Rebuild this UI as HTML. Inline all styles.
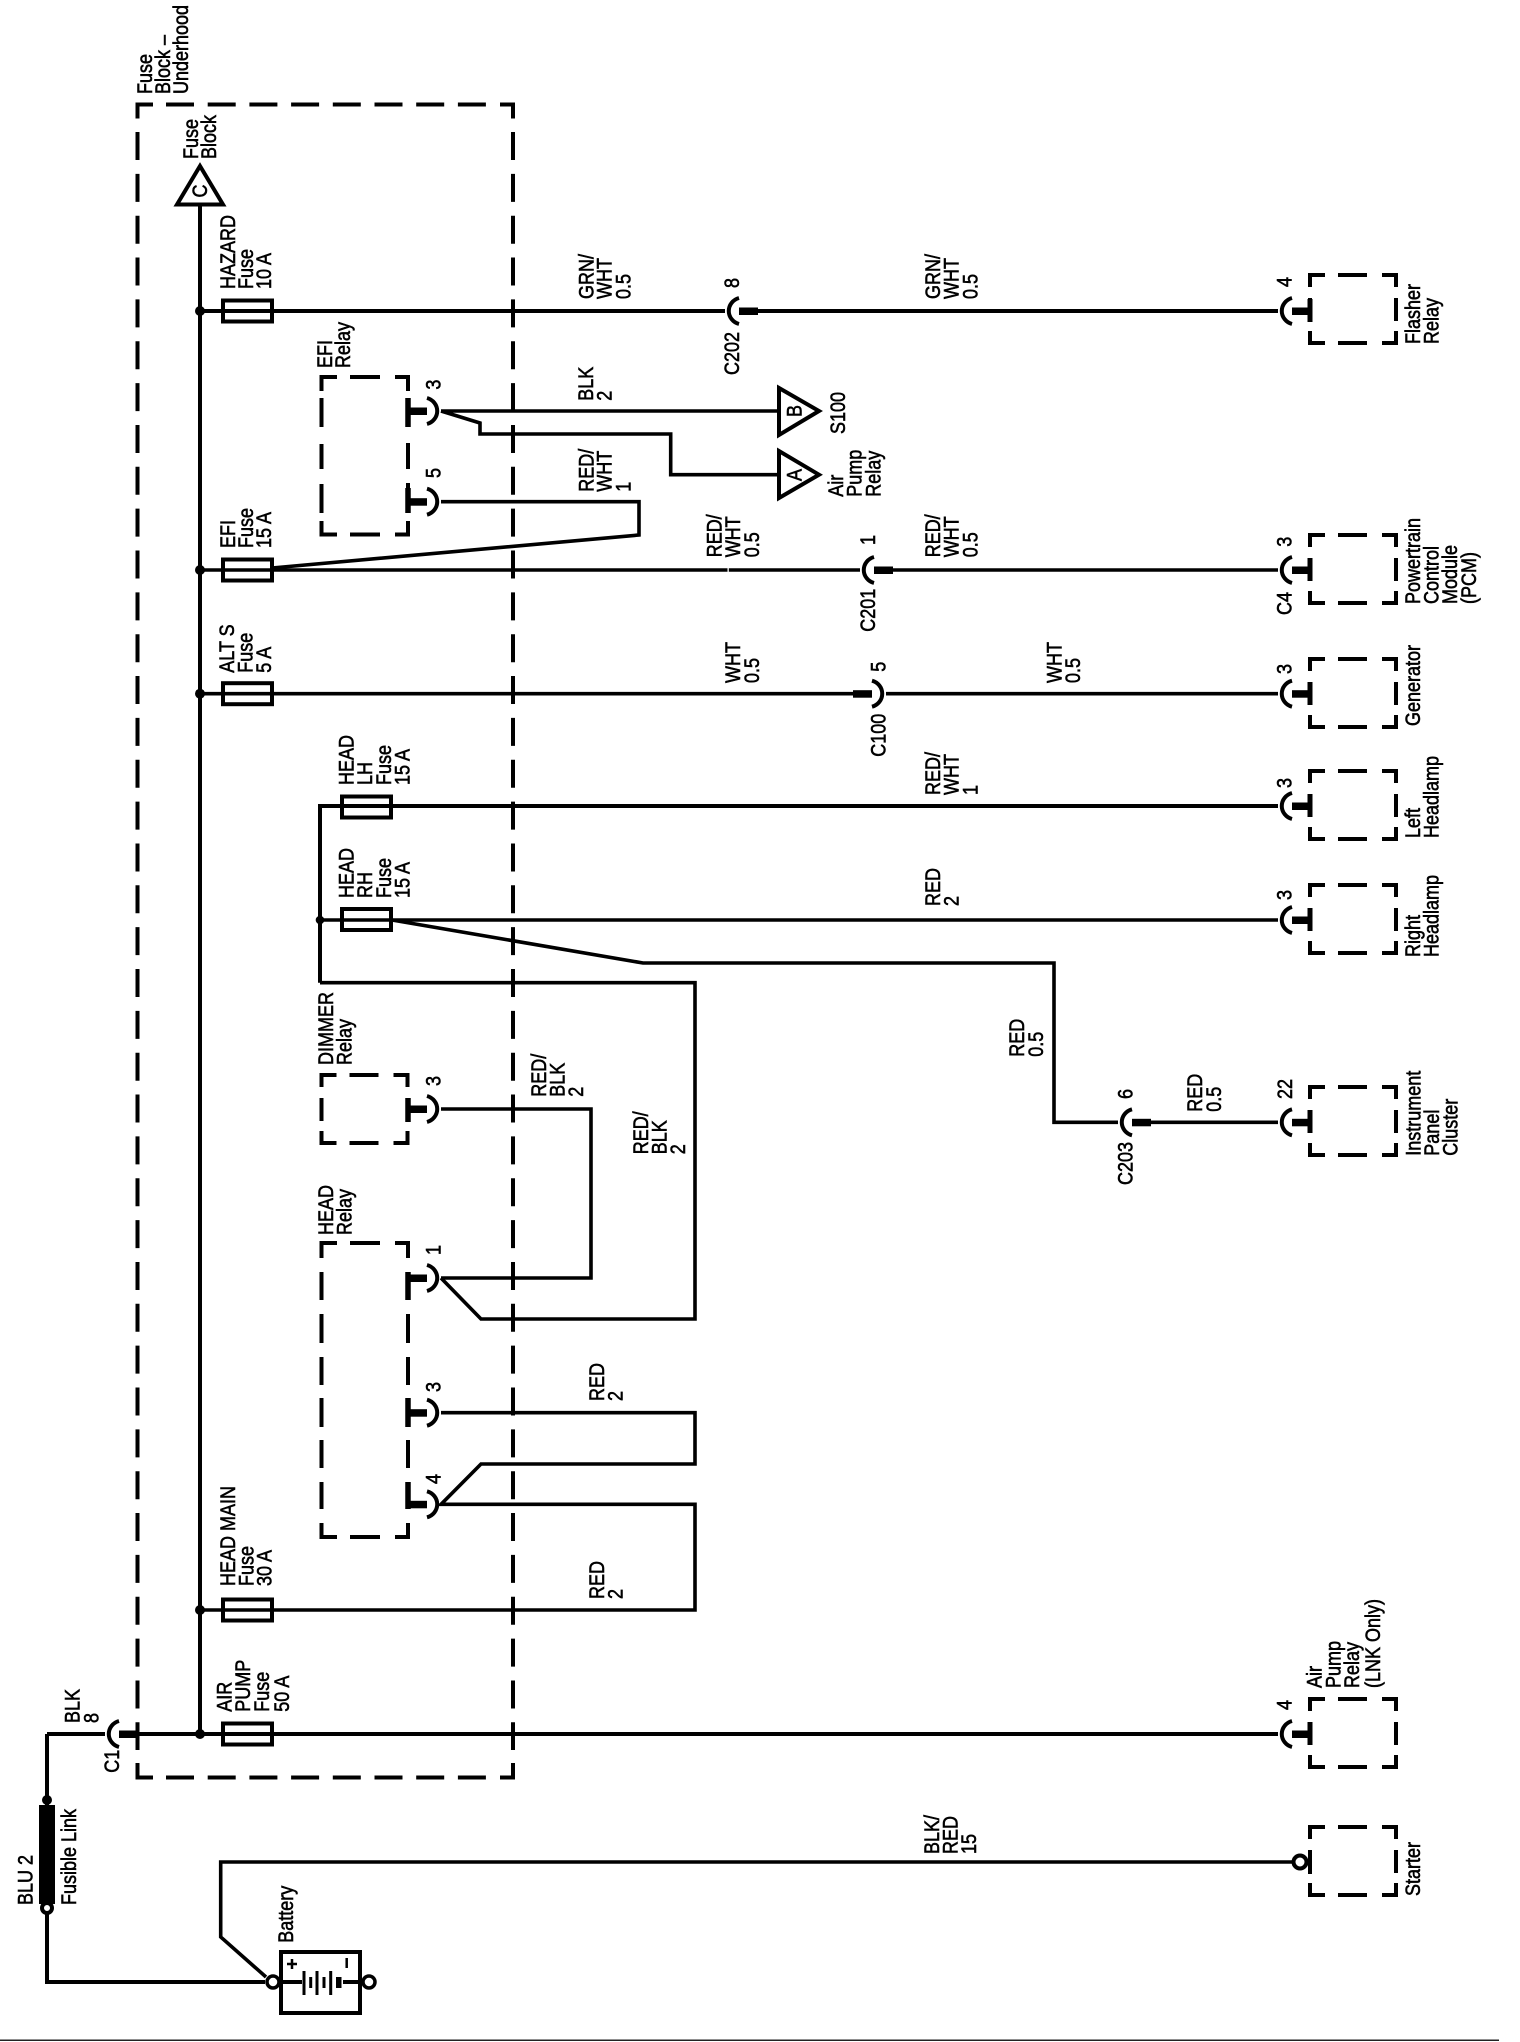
<!DOCTYPE html>
<html><head><meta charset="utf-8"><style>
html,body{margin:0;padding:0;background:#fff;width:1520px;height:2042px;overflow:hidden}
svg{display:block}
text{font-family:"Liberation Sans",sans-serif;font-size:18px;fill:#000;stroke:#000;stroke-width:.5}
.w{fill:none;stroke:#000;stroke-width:4;stroke-linejoin:miter}
.t{stroke-width:3.6}
</style></head><body>
<svg width="1520" height="2042" viewBox="0 0 1520 2042" xmlns="http://www.w3.org/2000/svg">
<defs>
<g id="cr"><path d="M14,-13A14,13.5 0 0 0 14,13" fill="none" stroke="#000" stroke-width="4"/><rect x="14" y="-3.5" width="19" height="7.5" fill="#000"/></g>
<path id="db" d="M15,-35H0V-23M28,-35H57M72,-35H86V-23M0,-12V11M86,-12V11M0,21V33H15M28,33H57M72,33H86V21" class="w" stroke="#000" fill="none" stroke-width="4"/>
<rect id="fz" x="0" y="-10.5" width="49" height="21" fill="none" stroke="#000" stroke-width="4"/>
</defs>

<!-- main dashed box -->
<path class="w" d="M153,104.5H137.5V118.5M500,104.5H513V118.5M137.5,1763V1777.5H153M513,1763V1777.5H500"/>
<path class="w" stroke-dasharray="28 13.7" d="M166,104.5H487M166,1777.5H487"/>
<path class="w" stroke-dasharray="28 13.85" d="M137.5,132V1750M513,132V1750"/>

<!-- trunk and triangle -->
<path class="w" d="M200,204V1734"/>
<path d="M200,166L177,204.5H223Z" fill="#fff" stroke="#000" stroke-width="4"/>
<circle cx="200" cy="311" r="5"/><circle cx="200" cy="570" r="5"/><circle cx="200" cy="693.7" r="5"/><circle cx="200" cy="1610" r="5"/><circle cx="200" cy="1734" r="5"/>

<!-- wires -->
<g class="w" fill="none" stroke="#000">
<path class="w" d="M200,311H725M757,311H1278"/>
<path class="w t" d="M441,411H779M441,411L480,423V434H670.7V474.7H779"/>
<path class="w t" d="M441,501.7H639V535L272,568"/>
<path class="w t" d="M200,570H860M892,570H1278"/>
<path class="w t" d="M200,693.7H854M886,693.7H1278"/>
<path class="w" d="M320,982.7V806H1278"/>
<path class="w t" d="M320,920H1278"/>
<path class="w t" d="M392,920L643,963H1054V1122.3H1118M1151,1122.3H1278"/>
<path class="w t" d="M320,982.7H695V1319H481L441,1278"/>
<path class="w t" d="M441,1109H591V1278H441"/>
<path class="w t" d="M441,1412.7H695V1464H481L441,1504.3H695V1610H200"/>
<path class="w" d="M105,1734H47M138,1734H1278"/>
<path class="w" d="M47,1734V1982H265"/>
<path class="w t" d="M1293,1862H220.7V1937L266,1977"/>
</g>
<rect x="727.5" y="567" width="1.3" height="6" fill="#fff"/>
<circle cx="320" cy="920" r="4.3"/>

<!-- fuses -->
<use href="#fz" x="223" y="311"/><use href="#fz" x="223" y="570"/><use href="#fz" x="223" y="693.7"/><use href="#fz" x="223" y="1610"/><use href="#fz" x="223" y="1734"/>
<use href="#fz" x="342" y="807"/><use href="#fz" x="342" y="919.5"/>

<!-- connectors -->
<use href="#cr" x="725" y="311"/><use href="#cr" x="860" y="570"/><use href="#cr" x="1118" y="1122.3"/>
<use href="#cr" x="1278" y="311"/><use href="#cr" x="1278" y="570"/><use href="#cr" x="1278" y="693.7"/><use href="#cr" x="1278" y="806"/><use href="#cr" x="1278" y="920"/><use href="#cr" x="1278" y="1122.3"/><use href="#cr" x="1278" y="1734"/>
<use href="#cr" x="105" y="1734"/>
<use href="#cr" transform="translate(886,693.7) scale(-1,1)"/>
<use href="#cr" transform="translate(441,411) scale(-1,1)"/>
<use href="#cr" transform="translate(441,501.7) scale(-1,1)"/>
<use href="#cr" transform="translate(441,1109) scale(-1,1)"/>
<use href="#cr" transform="translate(441,1278) scale(-1,1)"/>
<use href="#cr" transform="translate(441,1412.7) scale(-1,1)"/>
<use href="#cr" transform="translate(441,1504.3) scale(-1,1)"/>

<!-- destination boxes -->
<use href="#db" x="1310" y="310"/><use href="#db" x="1310" y="570"/><use href="#db" x="1310" y="694"/><use href="#db" x="1310" y="806"/><use href="#db" x="1310" y="920"/><use href="#db" x="1310" y="1122"/><use href="#db" x="1310" y="1734"/><use href="#db" x="1310" y="1862"/>
<path d="M1310,1850V1874" stroke="#000" stroke-width="4"/>
<circle cx="1300" cy="1862" r="6.5" fill="#fff" stroke="#000" stroke-width="4"/>
<path d="M1310,299V322M1310,558V581M1310,682V705M1310,794V817M1310,908V931M1310,1110V1133M1310,1722V1745" stroke="#000" stroke-width="5"/>

<!-- relay boxes -->
<use href="#db" x="321.5" y="1110"/>
<path class="w" d="M337,377H321.5V391M350,377H380M395,377H408V391M321.5,398V427M321.5,444V469M321.5,484V513M321.5,521V534.5H337M350,534.5H380M395,534.5H408V521M408,398V427M408,443V469M408,483V511"/>
<path class="w" d="M337,1243H321.5V1258M350,1243H380M395,1243H408V1258M321.5,1272V1300M321.5,1314V1343M321.5,1357V1385M321.5,1398V1427M321.5,1440V1468M321.5,1482V1509M321.5,1523V1537H337M350,1537H380M395,1537H408V1523M408,1272V1300M408,1314V1343M408,1357V1385M408,1398V1427M408,1440V1468M408,1482V1509"/>
<path d="M408,398V427M408,488V513M408,1098V1122M408,1272V1300M408,1398V1427M408,1482V1509" stroke="#000" stroke-width="5.5"/>

<!-- off-page triangles -->
<path d="M779,388V435L819,411Z" fill="#fff" stroke="#000" stroke-width="4"/>
<path d="M779,451V498L819,474.7Z" fill="#fff" stroke="#000" stroke-width="4"/>

<!-- fusible link -->
<rect x="39" y="1805" width="16" height="99"/>
<circle cx="47" cy="1800" r="5"/>
<circle cx="47" cy="1908" r="5" fill="#fff" stroke="#000" stroke-width="4"/>

<!-- battery -->
<rect x="281" y="1952" width="79" height="61" fill="#fff" stroke="#000" stroke-width="4"/>
<path d="M280,1982H302M343,1982H362" stroke="#000" stroke-width="4"/>
<path d="M304,1971V1995M310.7,1977V1988M317,1971V1995M324,1977V1988M330.7,1971V1995" stroke="#000" stroke-width="3"/>
<rect x="336" y="1977" width="5.5" height="11"/>
<path d="M292,1959V1969M287,1964H297M346.7,1958V1968" stroke="#000" stroke-width="2.5"/>
<circle cx="273" cy="1982" r="6" fill="#fff" stroke="#000" stroke-width="3.5"/>
<circle cx="369" cy="1982" r="6" fill="#fff" stroke="#000" stroke-width="3.5"/>

<!-- bottom rule -->
<rect x="0" y="2039.5" width="1499" height="1.5" fill="#222"/>

<!-- labels -->
<g>
<text transform="translate(152,94) rotate(-90) scale(1,1.16)"><tspan x="0">Fuse</tspan><tspan x="0" dy="15.6">Block –</tspan><tspan x="0" dy="15.6">Underhood</tspan></text>
<text transform="translate(198,159) rotate(-90) scale(1,1.16)"><tspan x="0">Fuse</tspan><tspan x="0" dy="15.6">Block</tspan></text>
<text transform="translate(207,191) rotate(-90) scale(1,1.16)" text-anchor="middle">C</text>
<text transform="translate(235,289) rotate(-90) scale(1,1.16)"><tspan x="0">HAZARD</tspan><tspan x="0" dy="15.6">Fuse</tspan><tspan x="0" dy="15.6">10 A</tspan></text>
<text transform="translate(332,368) rotate(-90) scale(1,1.16)"><tspan x="0">EFI</tspan><tspan x="0" dy="15.6">Relay</tspan></text>
<text transform="translate(440.7,389.6) rotate(-90) scale(1,1.16)">3</text>
<text transform="translate(440.7,478) rotate(-90) scale(1,1.16)">5</text>
<text transform="translate(235,548) rotate(-90) scale(1,1.16)"><tspan x="0">EFI</tspan><tspan x="0" dy="15.6">Fuse</tspan><tspan x="0" dy="15.6">15 A</tspan></text>
<text transform="translate(593.3,299) rotate(-90) scale(1,1.16)"><tspan x="0">GRN/</tspan><tspan x="0" dy="15.8">WHT</tspan><tspan x="0" dy="16.4">0.5</tspan></text>
<text transform="translate(940,299) rotate(-90) scale(1,1.16)"><tspan x="0">GRN/</tspan><tspan x="0" dy="15.8">WHT</tspan><tspan x="0" dy="16.4">0.5</tspan></text>
<text transform="translate(739,288) rotate(-90) scale(1,1.16)">8</text>
<text transform="translate(739,375) rotate(-90) scale(1,1.16)">C202</text>
<text transform="translate(593,400.7) rotate(-90) scale(1,1.16)"><tspan x="0">BLK</tspan><tspan x="0" dy="16">2</tspan></text>
<text transform="translate(593.3,491.7) rotate(-90) scale(1,1.16)"><tspan x="0">RED/</tspan><tspan x="0" dy="15.8">WHT</tspan><tspan x="0" dy="16.4">1</tspan></text>
<text transform="translate(845,434) rotate(-90) scale(1,1.16)">S100</text>
<text transform="translate(843,496.7) rotate(-90) scale(1,1.16)"><tspan x="0">Air</tspan><tspan x="0" dy="16">Pump</tspan><tspan x="0" dy="16.4">Relay</tspan></text>
<text transform="translate(801.7,411) rotate(-90) scale(1,1.16)" text-anchor="middle">B</text>
<text transform="translate(801.7,475) rotate(-90) scale(1,1.16)" text-anchor="middle">A</text>
<text transform="translate(721.7,557.3) rotate(-90) scale(1,1.16)"><tspan x="0">RED/</tspan><tspan x="0" dy="15.8">WHT</tspan><tspan x="0" dy="16.4">0.5</tspan></text>
<text transform="translate(940,557.3) rotate(-90) scale(1,1.16)"><tspan x="0">RED/</tspan><tspan x="0" dy="15.8">WHT</tspan><tspan x="0" dy="16.4">0.5</tspan></text>
<text transform="translate(875,545) rotate(-90) scale(1,1.16)">1</text>
<text transform="translate(875,631.7) rotate(-90) scale(1,1.16)">C201</text>
<text transform="translate(740,683) rotate(-90) scale(1,1.16)"><tspan x="0">WHT</tspan><tspan x="0" dy="16.4">0.5</tspan></text>
<text transform="translate(1061.7,683) rotate(-90) scale(1,1.16)"><tspan x="0">WHT</tspan><tspan x="0" dy="16">0.5</tspan></text>
<text transform="translate(885.7,671.7) rotate(-90) scale(1,1.16)">5</text>
<text transform="translate(885.7,756.7) rotate(-90) scale(1,1.16)">C100</text>
<text transform="translate(234,672.7) rotate(-90) scale(1,1.16)"><tspan x="0">ALT S</tspan><tspan x="0" dy="16">Fuse</tspan><tspan x="0" dy="15.8">5 A</tspan></text>
<text transform="translate(940,795) rotate(-90) scale(1,1.16)"><tspan x="0">RED/</tspan><tspan x="0" dy="15.8">WHT</tspan><tspan x="0" dy="16.4">1</tspan></text>
<text transform="translate(353.3,785) rotate(-90) scale(1,1.16)"><tspan x="0">HEAD</tspan><tspan x="0" dy="16.2">LH</tspan><tspan x="0" dy="16.2">Fuse</tspan><tspan x="0" dy="16.2">15 A</tspan></text>
<text transform="translate(353.3,898) rotate(-90) scale(1,1.16)"><tspan x="0">HEAD</tspan><tspan x="0" dy="16.2">RH</tspan><tspan x="0" dy="16.2">Fuse</tspan><tspan x="0" dy="16.2">15 A</tspan></text>
<text transform="translate(940,906) rotate(-90) scale(1,1.16)"><tspan x="0">RED</tspan><tspan x="0" dy="16">2</tspan></text>
<text transform="translate(1024,1056.7) rotate(-90) scale(1,1.16)"><tspan x="0">RED</tspan><tspan x="0" dy="16.4">0.5</tspan></text>
<text transform="translate(1202,1111.7) rotate(-90) scale(1,1.16)"><tspan x="0">RED</tspan><tspan x="0" dy="16.4">0.5</tspan></text>
<text transform="translate(1132.7,1099) rotate(-90) scale(1,1.16)">6</text>
<text transform="translate(1132.7,1185) rotate(-90) scale(1,1.16)">C203</text>
<text transform="translate(1292,1099) rotate(-90) scale(1,1.16)">22</text>
<text transform="translate(1420.7,1155.7) rotate(-90) scale(1,1.16)"><tspan x="0">Instrument</tspan><tspan x="0" dy="16">Panel</tspan><tspan x="0" dy="15.6">Cluster</tspan></text>
<text transform="translate(1420,344) rotate(-90) scale(1,1.16)"><tspan x="0">Flasher</tspan><tspan x="0" dy="15.8">Relay</tspan></text>
<text transform="translate(1291.7,287) rotate(-90) scale(1,1.16)">4</text>
<text transform="translate(1420,604) rotate(-90) scale(1,1.16)"><tspan x="0">Powertrain</tspan><tspan x="0" dy="15.8">Control</tspan><tspan x="0" dy="16">Module</tspan><tspan x="0" dy="16.6">(PCM)</tspan></text>
<text transform="translate(1291.7,615) rotate(-90) scale(1,1.16)">C4</text>
<text transform="translate(1291.7,546.7) rotate(-90) scale(1,1.16)">3</text>
<text transform="translate(1420,726) rotate(-90) scale(1,1.16)">Generator</text>
<text transform="translate(1291.7,674) rotate(-90) scale(1,1.16)">3</text>
<text transform="translate(1420,838) rotate(-90) scale(1,1.16)"><tspan x="0">Left</tspan><tspan x="0" dy="15.8">Headlamp</tspan></text>
<text transform="translate(1291.7,788) rotate(-90) scale(1,1.16)">3</text>
<text transform="translate(1420,957) rotate(-90) scale(1,1.16)"><tspan x="0">Right</tspan><tspan x="0" dy="15.8">Headlamp</tspan></text>
<text transform="translate(1291.7,900) rotate(-90) scale(1,1.16)">3</text>
<text transform="translate(1321.7,1688) rotate(-90) scale(1,1.16)"><tspan x="0">Air</tspan><tspan x="0" dy="16.4">Pump</tspan><tspan x="0" dy="15.8">Relay</tspan><tspan x="0" dy="18">(LNK Only)</tspan></text>
<text transform="translate(1291.7,1710) rotate(-90) scale(1,1.16)">4</text>
<text transform="translate(1420,1896) rotate(-90) scale(1,1.16)">Starter</text>
<text transform="translate(939,1854) rotate(-90) scale(1,1.16)"><tspan x="0">BLK/</tspan><tspan x="0" dy="15.8">RED</tspan><tspan x="0" dy="16">15</tspan></text>
<text transform="translate(235,1586) rotate(-90) scale(1,1.16)"><tspan x="0">HEAD MAIN</tspan><tspan x="0" dy="15.8">Fuse</tspan><tspan x="0" dy="15.8">30 A</tspan></text>
<text transform="translate(231.7,1711.7) rotate(-90) scale(1,1.16)"><tspan x="0">AIR</tspan><tspan x="0" dy="15.8">PUMP</tspan><tspan x="0" dy="16.4">Fuse</tspan><tspan x="0" dy="17">50 A</tspan></text>
<text transform="translate(604,1401) rotate(-90) scale(1,1.16)"><tspan x="0">RED</tspan><tspan x="0" dy="16">2</tspan></text>
<text transform="translate(604,1599) rotate(-90) scale(1,1.16)"><tspan x="0">RED</tspan><tspan x="0" dy="16">2</tspan></text>
<text transform="translate(546,1096.7) rotate(-90) scale(1,1.16)"><tspan x="0">RED/</tspan><tspan x="0" dy="16">BLK</tspan><tspan x="0" dy="16">2</tspan></text>
<text transform="translate(648,1154.3) rotate(-90) scale(1,1.16)"><tspan x="0">RED/</tspan><tspan x="0" dy="16">BLK</tspan><tspan x="0" dy="16">2</tspan></text>
<text transform="translate(333,1065) rotate(-90) scale(1,1.16)"><tspan x="0">DIMMER</tspan><tspan x="0" dy="16">Relay</tspan></text>
<text transform="translate(333,1235) rotate(-90) scale(1,1.16)"><tspan x="0">HEAD</tspan><tspan x="0" dy="16">Relay</tspan></text>
<text transform="translate(440.7,1086) rotate(-90) scale(1,1.16)">3</text>
<text transform="translate(440.7,1255) rotate(-90) scale(1,1.16)">1</text>
<text transform="translate(440.7,1392) rotate(-90) scale(1,1.16)">3</text>
<text transform="translate(440.7,1484) rotate(-90) scale(1,1.16)">4</text>
<text transform="translate(79.3,1723) rotate(-90) scale(1,1.16)"><tspan x="0">BLK</tspan><tspan x="0" dy="16.4">8</tspan></text>
<text transform="translate(119,1772.7) rotate(-90) scale(1,1.16)">C1</text>
<text transform="translate(32.7,1905) rotate(-90) scale(1,1.16)">BLU 2</text>
<text transform="translate(76,1905) rotate(-90) scale(1,1.16)">Fusible Link</text>
<text transform="translate(293,1942.7) rotate(-90) scale(1,1.16)">Battery</text>
</g>
</svg>
</body></html>
